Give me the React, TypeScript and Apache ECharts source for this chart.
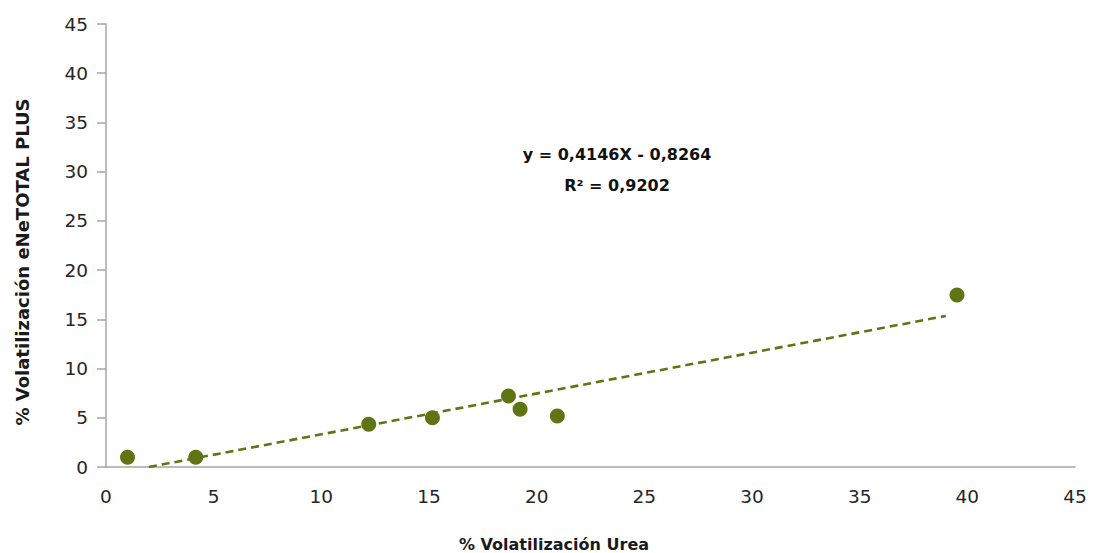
import React, { useEffect, useRef } from "react";
import * as echarts from "echarts";

const urea = [1.0, 4.17, 12.2, 15.16, 18.69, 19.23, 20.96, 39.52];
const enetotal = [0.99, 1.0, 4.34, 5.0, 7.2, 5.86, 5.18, 17.47];
const slope = 0.4146;
const intercept = -0.8264;
const trendX = [1.993, 39.0];
const xTitle = "% Volatilización Urea";
const yTitle = "% Volatilización eNeTOTAL PLUS";
const eqLine1 = "y = 0,4146X - 0,8264";
const eqLine2 = "R² = 0,9202";

const GREEN = "#5f7413";
const FONT = "'DejaVu Sans', 'Noto Sans', sans-serif";

export default function App() {
  const ref = useRef<HTMLDivElement>(null);
  useEffect(() => {
    if (!ref.current) return;
    const chart = echarts.init(ref.current, undefined, { renderer: "svg" });
    const points = urea.map((x, i) => [x, enetotal[i]]);
    const trend = trendX.map((x) => [x, slope * x + intercept]);
    chart.setOption({
      animation: false,
      grid: { left: 106, right: 18, top: 24, bottom: 86 },
      xAxis: {
        type: "value",
        min: 0,
        max: 45,
        interval: 5,
        axisLine: { show: true, lineStyle: { color: "#a6a6a6", width: 1.5 } },
        axisTick: { show: false },
        splitLine: { show: false },
        axisLabel: { color: "#262626", fontSize: 18.5, fontFamily: FONT, margin: 20 },
      },
      yAxis: {
        type: "value",
        min: 0,
        max: 45,
        interval: 5,
        axisLine: { show: true, lineStyle: { color: "#a6a6a6", width: 1.5 } },
        axisTick: { show: true, length: 9, lineStyle: { color: "#a6a6a6", width: 1.5 } },
        splitLine: { show: false },
        axisLabel: { color: "#262626", fontSize: 18.5, fontFamily: FONT, margin: 18 },
      },
      graphic: [
        {
          type: "text",
          x: 554,
          y: 544,
          style: {
            text: xTitle,
            font: `bold 16px ${FONT}`,
            fill: "#1a1a1a",
            textAlign: "center",
            textVerticalAlign: "middle",
          },
        },
        {
          type: "text",
          x: 22,
          y: 262,
          rotation: Math.PI / 2,
          style: {
            text: yTitle,
            font: `bold 18px ${FONT}`,
            fill: "#1a1a1a",
            textAlign: "center",
            textVerticalAlign: "middle",
          },
        },
        {
          type: "text",
          x: 617,
          y: 154,
          style: {
            text: eqLine1,
            font: `bold 16px ${FONT}`,
            fill: "#111",
            textAlign: "center",
            textVerticalAlign: "middle",
          },
        },
        {
          type: "text",
          x: 617,
          y: 185,
          style: {
            text: eqLine2,
            font: `bold 16px ${FONT}`,
            fill: "#111",
            textAlign: "center",
            textVerticalAlign: "middle",
          },
        },
      ],
      series: [
        {
          type: "line",
          data: trend,
          symbol: "none",
          lineStyle: { color: GREEN, width: 2.6, type: [8, 5] },
          z: 1,
        },
        {
          type: "scatter",
          data: points,
          symbol: "circle",
          symbolSize: 15,
          itemStyle: { color: GREEN, opacity: 1 },
          z: 2,
        },
      ],
    });
    return () => chart.dispose();
  }, []);
  return <div ref={ref} style={{ width: 1093, height: 553, position: "absolute", left: 0, top: 0 }} />;
}
